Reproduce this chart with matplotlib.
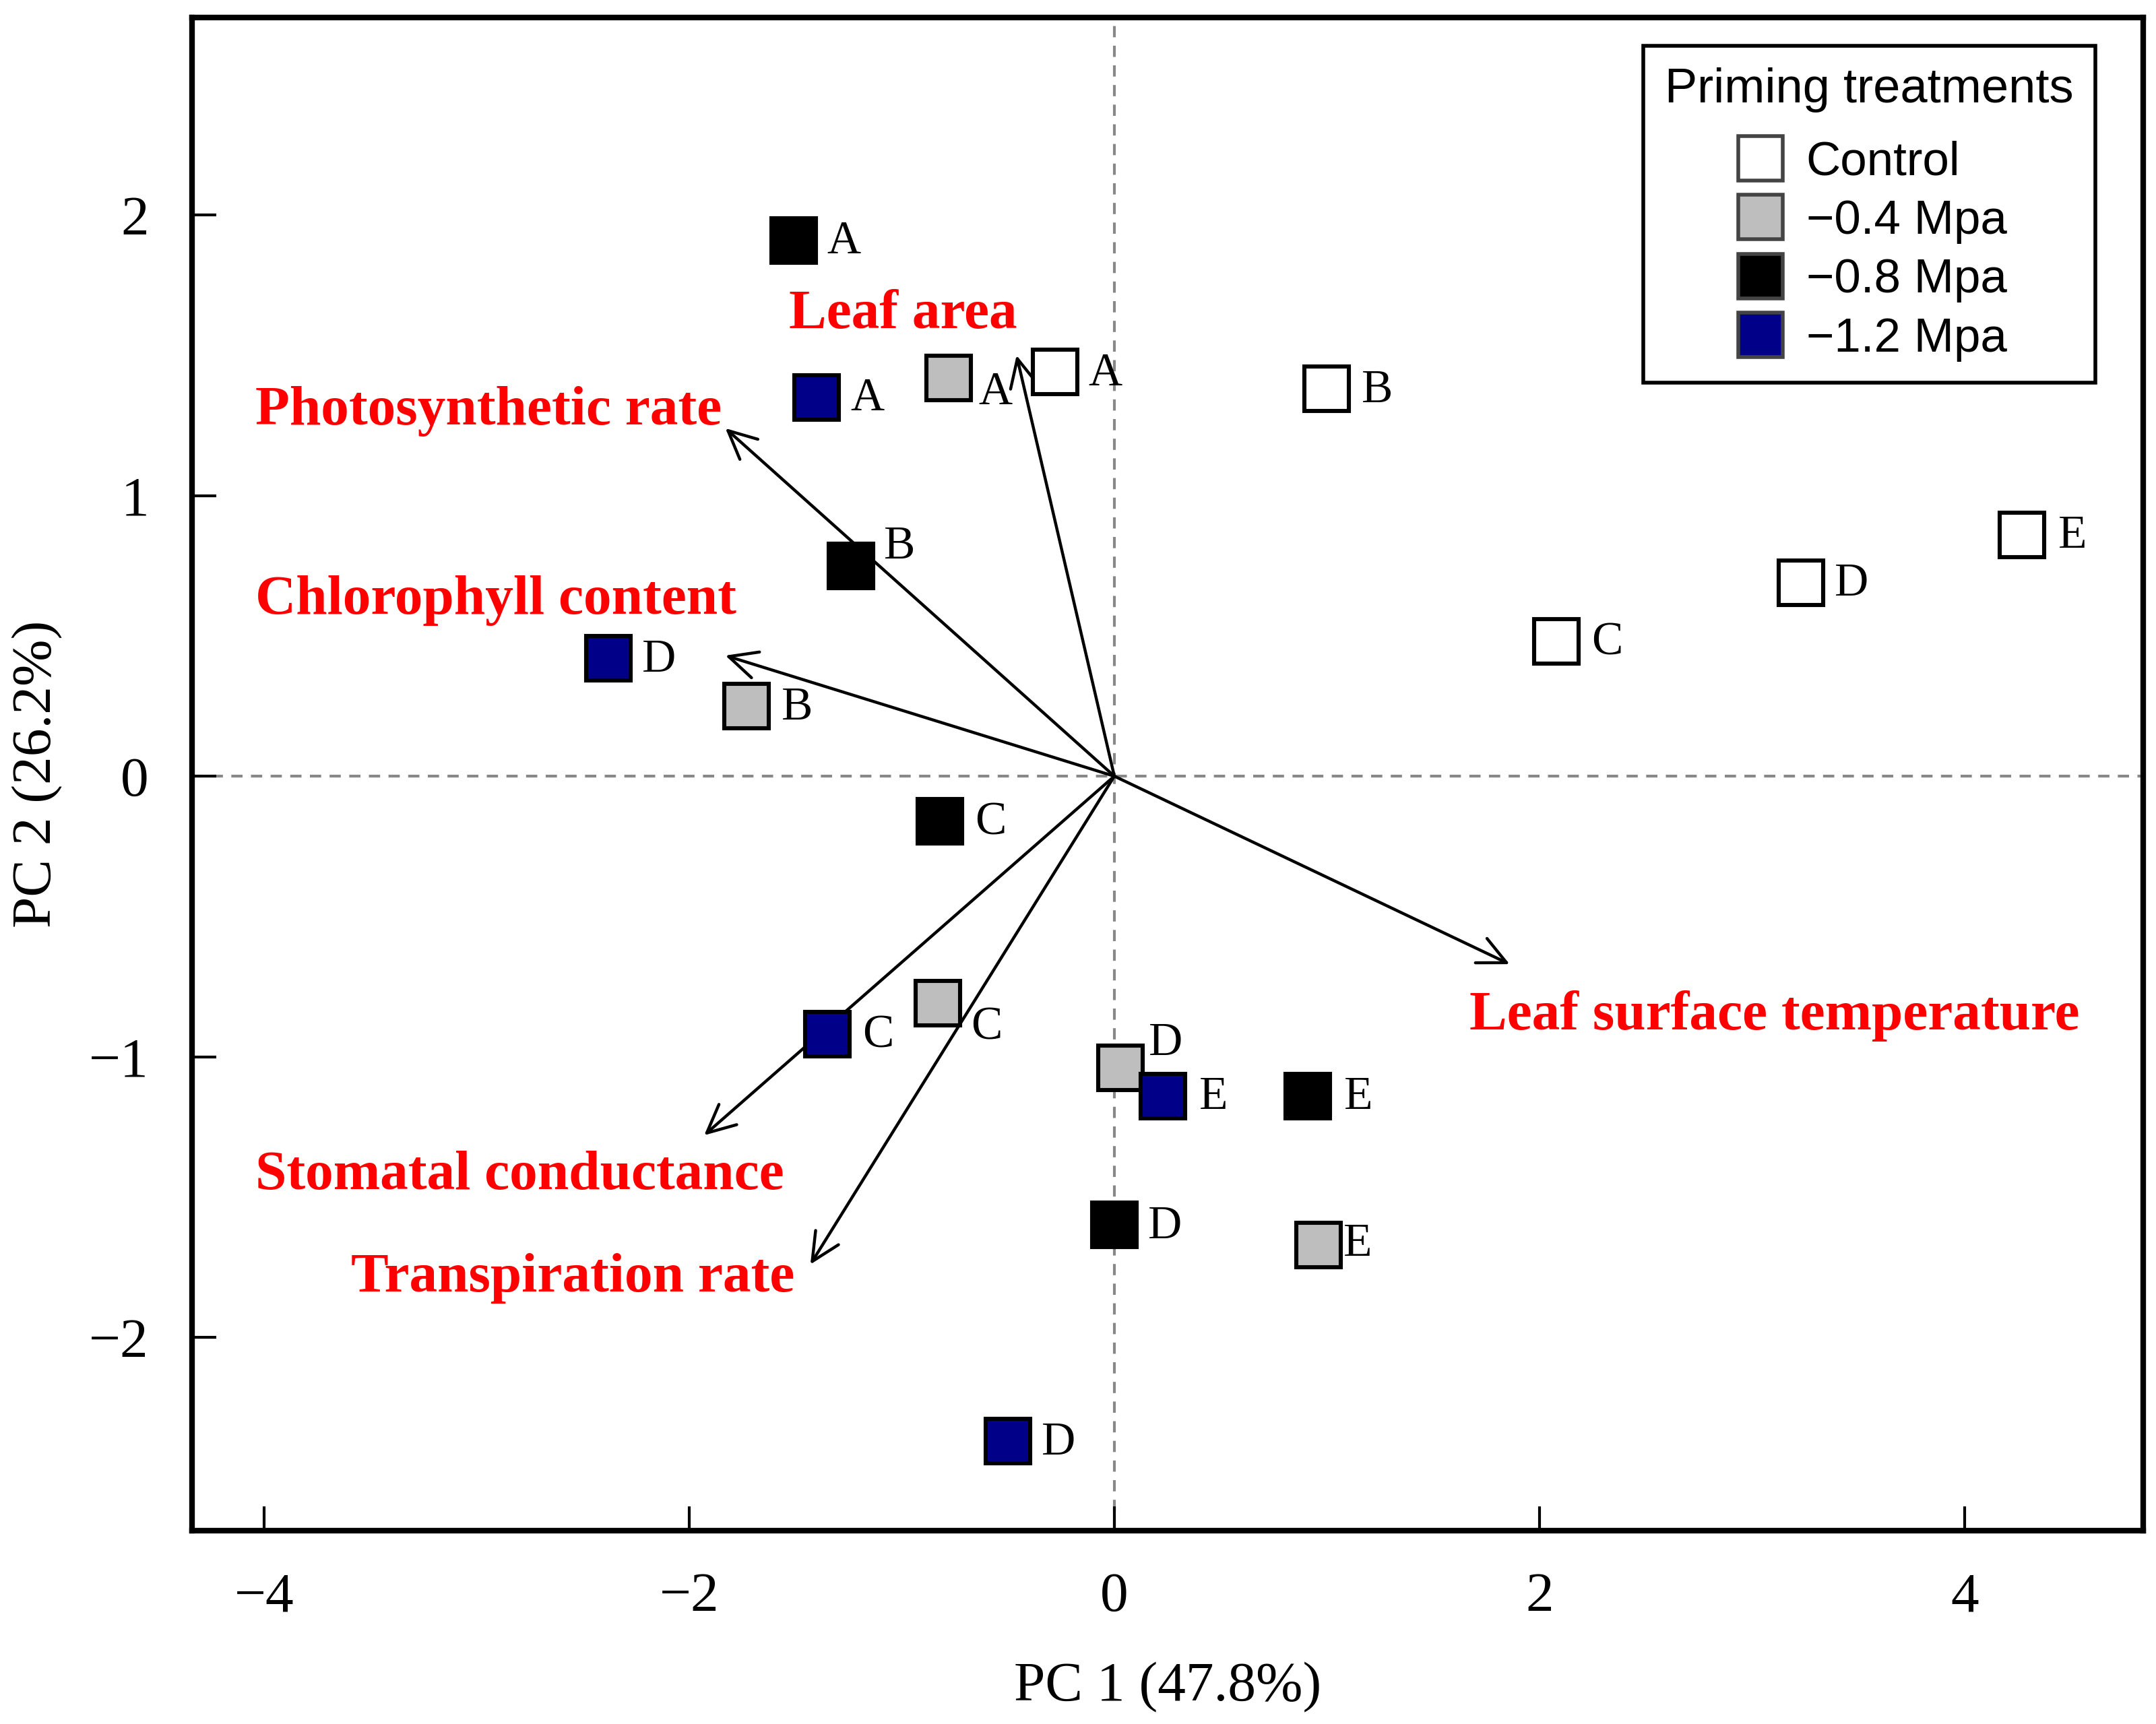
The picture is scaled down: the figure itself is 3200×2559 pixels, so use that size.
import matplotlib
matplotlib.use("Agg")
import matplotlib.pyplot as plt
from matplotlib.patches import FancyArrowPatch
from matplotlib.lines import Line2D

plt.rcParams['font.family'] = ['Liberation Serif', 'DejaVu Serif']

# ---------------- data
groups = ["Control", "\u22120.4 Mpa", "\u22120.8 Mpa", "\u22121.2 Mpa"]
colors = ["white", "#BEBEBE", "black", "#000088"]

ctrl_lab = ["A", "B", "C", "D", "E"]
ctrl_x = [-0.28, 1.00, 2.08, 3.23, 4.27]
ctrl_y = [1.44, 1.38, 0.48, 0.69, 0.86]

p04_lab = ["A", "B", "C", "D", "E"]
p04_x = [-0.78, -1.73, -0.83, 0.03, 0.96]
p04_y = [1.42, 0.25, -0.81, -1.04, -1.67]

p08_lab = ["A", "B", "C", "D", "E"]
p08_x = [-1.51, -1.24, -0.82, 0.00, 0.91]
p08_y = [1.91, 0.75, -0.16, -1.60, -1.14]

p12_lab = ["A", "C", "D", "E", "D"]
p12_x = [-1.40, -1.35, -2.38, 0.23, -0.50]
p12_y = [1.35, -0.92, 0.42, -1.14, -2.37]

# loadings (arrow tips)
var_names = ["Leaf area", "Photosynthetic rate", "Chlorophyll content",
             "Leaf surface temperature", "Stomatal conductance", "Transpiration rate"]
load_x = [-0.46, -1.83, -1.83, 1.86, -1.93, -1.43]
load_y = [1.50, 1.24, 0.43, -0.67, -1.28, -1.74]
# where the red names sit
name_x = [-1.53, -4.04, -4.04, 1.67, -4.04, -3.59]
name_y = [1.645, 1.30, 0.625, -0.855, -1.425, -1.79]

# label offsets in points (most are to the right of the square)
offsets = {
    (1, 0): (25, -8), (1, 2): (26, -13), (1, 3): (24, 13), (1, 4): (21, 0),
    (2, 1): (26, 10),
}

fig = plt.figure(figsize=(16, 12.795), dpi=200)
ax = fig.add_axes([0.089, 0.112, 0.905, 0.878])

ax.axhline(0, color="#888888", ls=(0, (4, 3)), lw=1.5, zorder=1)
ax.axvline(0, color="#888888", ls=(0, (4, 3)), lw=1.5, zorder=1)

for i in range(len(var_names)):
    ar = FancyArrowPatch((0, 0), (load_x[i], load_y[i]),
                         arrowstyle="->,head_length=0.5,head_width=0.24",
                         mutation_scale=30, lw=1.6, color="black",
                         shrinkA=0, shrinkB=0, zorder=2)
    ax.add_patch(ar)
    ax.text(name_x[i], name_y[i], var_names[i], color="red", fontsize=30,
            fontweight="bold", ha="left", va="center", zorder=5)

series = [(ctrl_x, ctrl_y, ctrl_lab), (p04_x, p04_y, p04_lab),
          (p08_x, p08_y, p08_lab), (p12_x, p12_y, p12_lab)]
for g, (xs, ys, labs) in enumerate(series):
    ax.plot(xs, ys, ls="none", marker="s", ms=24, mfc=colors[g],
            mec="black", mew=2.2, zorder=3)
    for j in range(len(xs)):
        dx, dy = offsets.get((g, j), (27, -1))
        ax.annotate(labs[j], (xs[j], ys[j]), xytext=(dx, dy),
                    textcoords="offset points", ha="center", va="center",
                    fontsize=25, zorder=4)

ax.set_xlim(-4.34, 4.84)
ax.set_ylim(-2.69, 2.705)
ax.set_xticks([-4, -2, 0, 2, 4])
ax.set_yticks([-2, -1, 0, 1, 2])
ax.tick_params(direction="in", length=13, width=1.5, labelsize=30)
ax.tick_params(axis="y", pad=23)
ax.tick_params(axis="x", pad=22)
for s in ax.spines.values():
    s.set_linewidth(3)
ax.set_xlabel("PC 1 (47.8%)", fontsize=30, labelpad=21)
ax.set_ylabel("PC 2 (26.2%)", fontsize=30, labelpad=14)

handles = [Line2D([], [], ls="none", marker="s", ms=24, mfc=c, mec="#444444", mew=2)
           for c in colors]
leg = ax.legend(handles, groups, title="Priming treatments", loc="upper right",
                bbox_to_anchor=(0.9755, 0.981), borderaxespad=0, frameon=True,
                fancybox=False, edgecolor="black", framealpha=1,
                prop={"family": "Liberation Sans", "size": 25.5},
                handletextpad=0.35, labelspacing=0.30, handlelength=1.2,
                borderpad=0.45)
leg.get_title().set_fontfamily("Liberation Sans")
leg.get_title().set_fontsize(26)
leg.get_frame().set_linewidth(2)
leg._legend_box.sep = 15  # a bit more room below the title

fig.savefig("out.png", dpi=200)
